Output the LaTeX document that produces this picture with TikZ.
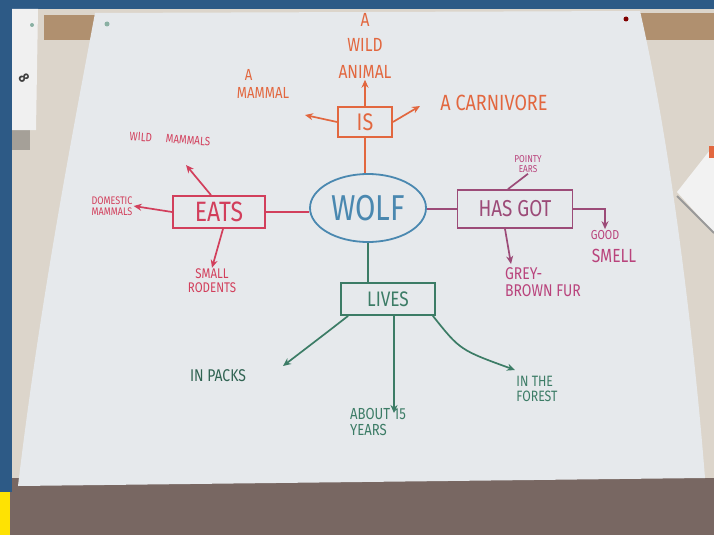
\documentclass[tikz,border=0pt]{standalone}
\usepackage{fontspec}
\setmainfont{Fira Sans}[FakeStretch=0.82]
\usetikzlibrary{arrows.meta,shapes.geometric}
\definecolor{wall}{HTML}{DCD5CB}
\definecolor{paper}{HTML}{E6E9EC}
\definecolor{frameblue}{HTML}{2D5A86}
\definecolor{floorc}{HTML}{786762}
\definecolor{rail}{HTML}{B0906F}
\definecolor{cOr}{HTML}{E2673F}
\definecolor{cRed}{HTML}{D23F5C}
\definecolor{cPur}{HTML}{9C4B78}
\definecolor{cMag}{HTML}{B9437C}
\definecolor{cGrn}{HTML}{3C7C66}
\definecolor{cBlu}{HTML}{4A88B0}
\tikzset{
  hb/.style={draw, line width=1.8pt, inner sep=4pt, minimum height=30pt},
  lbl/.style={font=\fontsize{#1}{#1}\selectfont, align=center, inner sep=1pt},
  arr/.style={line width=1.7pt, -{Stealth[length=8pt,width=7pt]}},
  ln/.style={line width=1.7pt},
}
\begin{document}
\begin{tikzpicture}[x=1pt,y=-1pt]
\useasboundingbox (0,0) rectangle (714,535);
% photo background
\fill[wall] (0,0) rectangle (714,535);
\fill[floorc] (0,478) rectangle (714,535);
\fill[frameblue] (0,0) rectangle (714,9);
\fill[frameblue] (0,0) rectangle (12,492);
\fill[yellow!85!orange] (0,492) rectangle (10,535);
\fill[rail] (44,15) rectangle (100,40);
\fill[rail] (630,13) rectangle (714,40);
\fill[wall!75!black] (12,128) rectangle (30,150);
\fill[white!88!gray] (12,9) -- (38,9) -- (36,130) -- (12,130) -- cycle;
\node[rotate=-60, font=\fontsize{15}{15}\selectfont\bfseries, text=black!75] (card8) at (24,78) {8};
\fill[white!90!gray] (677,192) -- (714,145) -- (714,233) -- cycle;
\draw[black!40, line width=2pt] (677,196) -- (714,233);
\fill[cOr] (709,146) rectangle (714,158);
% paper sheet
\fill[paper] (95,13) -- (640,11) .. controls (672,150) and (695,350) .. (705,478)
  -- (18,486) .. controls (40,300) and (75,120) .. (95,13) -- cycle;
\fill[cGrn!60] (107,24) circle (2.5);
\fill[red!50!black] (626,19) circle (2.5);
\fill[cGrn!60] (32,25) circle (2);

% centre
\node[draw=cBlu, line width=1.8pt, ellipse, minimum width=116pt, minimum height=68pt,
  text=cBlu, font=\fontsize{36}{36}\selectfont] (wolf) at (368,208) {WOLF};

% IS branch
\node[hb, draw=cOr, text=cOr, minimum width=54pt, font=\fontsize{24}{24}\selectfont] (is) at (365,122) {IS};
\node[lbl=19, text=cOr, text depth=0pt] (wild) at (365,46) {A\\[6pt]WILD\\[8pt]ANIMAL};
\node[lbl=16, text=cOr, align=left] (mammal) at (263,84) {\hspace*{8pt}A\\[2pt]MAMMAL};
\node[lbl=22, text=cOr] (carn) at (494,103) {A CARNIVORE};
\coordinate (mamtip) at (305,115);
\coordinate (carntip) at (420,106);
\draw[ln, draw=cOr] (is.south) -- (is.south |- wolf.north);
\draw[arr, draw=cOr] (is.north) -- (wild.south);
\draw[arr, draw=cOr] (is.west) -- (mamtip);
\draw[arr, draw=cOr] (is.east) -- (carntip);

% EATS branch
\node[hb, draw=cRed, text=cRed, minimum width=92pt, minimum height=32pt, font=\fontsize{28}{28}\selectfont] (eats) at (219,212) {EATS};
\node[lbl=12, text=cRed, rotate=-4] (wildm) at (170,139) {WILD\hspace{14pt}MAMMALS};
\node[lbl=11, text=cRed] (domm) at (112,206) {DOMESTIC\\MAMMALS};
\node[lbl=14, text=cRed] (rod) at (212,281) {SMALL\\RODENTS};
\coordinate (wmtip) at (186,165);
\draw[ln, draw=cRed] (eats.east) -- (eats.east -| wolf.west);
\draw[arr, draw=cRed] ([xshift=-8pt]eats.north) -- (wmtip);
\draw[arr, draw=cRed] (eats.west) -- (domm.east);
\draw[arr, draw=cRed] ([xshift=4pt]eats.south) -- (rod.north);

% HAS GOT branch
\node[hb, draw=cPur, text=cPur, minimum width=115pt, minimum height=38pt, font=\fontsize{23}{23}\selectfont] (has) at (515,209) {HAS GOT};
\node[lbl=10, text=cMag] (ears) at (528,164) {POINTY\\EARS};
\node[lbl=13, text=cMag] (good) at (605,235) {GOOD};
\node[lbl=19, text=cMag] (smell) at (614,256) {SMELL};
\node[lbl=17, text=cMag, align=left] (fur) at (543,282) {GREY-\\BROWN FUR};
\coordinate (furtip) at (511,264);
\draw[ln, draw=cPur] (has.west) -- (has.west -| wolf.east);
\draw[ln, draw=cPur] ([xshift=-7pt]has.north) -- (ears.south);
\draw[arr, draw=cPur] (has.east) -| (good.north);
\draw[arr, draw=cPur] ([xshift=-10pt]has.south) -- (furtip);

% LIVES branch
\node[hb, draw=cGrn, text=cGrn, minimum width=94pt, minimum height=32pt, font=\fontsize{21}{21}\selectfont] (lives) at (388,299) {LIVES};
\node[lbl=17, text=cGrn!80!black] (packs) at (218,376) {IN PACKS};
\node[lbl=16, text=cGrn, align=left] (years) at (378,422) {ABOUT 15\\YEARS};
\node[lbl=15, text=cGrn, align=left] (forest) at (537,389) {IN THE\\FOREST};
\coordinate (pktip) at (283,366);
\coordinate (yrtip) at (394,413);
\coordinate (frtip) at (515,370);
\draw[ln, draw=cGrn] (wolf.south) -- (wolf.south |- lives.north);
\draw[arr, draw=cGrn] ([xshift=8pt]lives.south west) .. controls (330,330) .. (pktip);
\draw[arr, draw=cGrn] ([xshift=6pt]lives.south) -- (yrtip);
\draw[arr, draw=cGrn] ([xshift=-3pt]lives.south east) .. controls (460,350) .. (frtip);
\end{tikzpicture}
\end{document}
